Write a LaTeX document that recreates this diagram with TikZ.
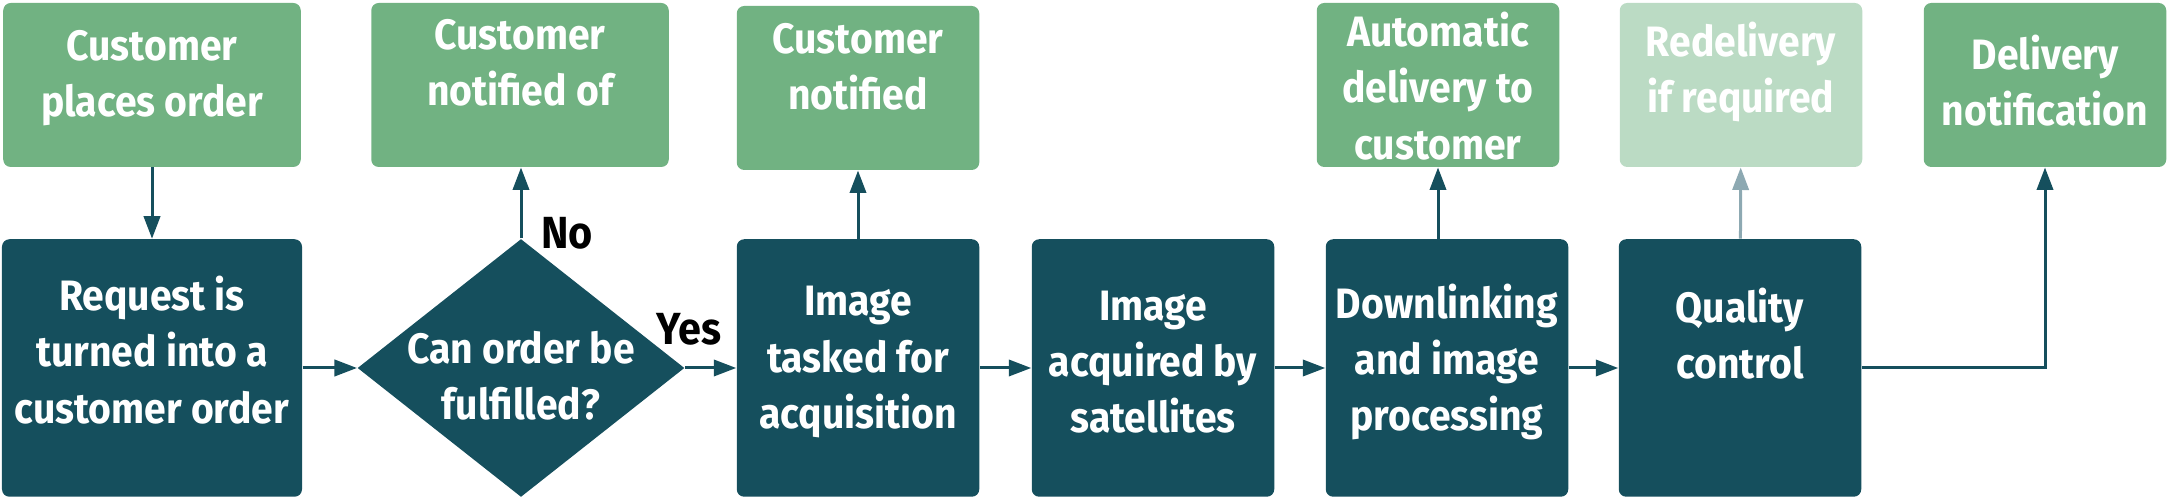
\documentclass[tikz,border=0pt]{standalone}
\usepackage{fontspec}
\setmainfont{Fira Sans}[FakeStretch=0.92]
\usetikzlibrary{arrows.meta,shapes.geometric}

\definecolor{darkteal}{HTML}{154F5D}
\definecolor{leafgreen}{HTML}{71B282}
\definecolor{palegreen}{HTML}{BBDBC4}
\definecolor{palearrow}{HTML}{8DA9B2}

\begin{document}
\begin{tikzpicture}[x=0.4pt,y=-0.4pt]

\tikzset{
  BoxStyle/.style = { rectangle, rounded corners=3pt, inner sep=0pt },
  DarkBox/.style = { BoxStyle, fill=darkteal,
                     minimum width=97pt, minimum height=103pt },
  GreenBox/.style = { BoxStyle, fill=leafgreen,
                      minimum width=97pt, minimum height=65.6pt },
  PaleBox/.style = { GreenBox, fill=palegreen },
  Decision/.style = { diamond, fill=darkteal, inner sep=0pt,
                      minimum width=130.8pt, minimum height=103.2pt },
  BoxText/.style = { align=center, text=white, inner sep=0pt,
                     font=\bfseries\fontsize{17}{22.5}\selectfont },
  LabelStyle/.style = { inner sep=0pt, font=\bfseries\fontsize{18}{20}\selectfont },
  Flow/.style = { draw=darkteal, line width=1.2pt,
                  -{Triangle[length=9pt,width=6.5pt]} },
  PaleFlow/.style = { Flow, draw=palearrow }
}
  \useasboundingbox (0,0) rectangle (2168,497);

  % top row
  \node[GreenBox, minimum width=119pt] (g1) at (152, 85) {};
  \node[GreenBox, minimum width=119pt] (g2) at (520, 85) {};
  \node[GreenBox] (g3) at (858, 88) {};
  \node[GreenBox] (g4) at (1438, 85) {};
  \node[PaleBox]  (g5) at (1741, 85) {};
  \node[GreenBox] (g6) at (2045, 85) {};

  \node[BoxText] (g1t) at (152, 78) {Customer\\places order};
  \node[BoxText] (g2t) at (520, 63) {Customer\\notified of};
  \node[BoxText] (g3t) at (858, 67) {Customer\\notified};
  \node[BoxText] (g4t) at (1438, 86) {Automatic\\delivery to\\customer};
  \node[BoxText] (g5t) at (1741, 72) {Redelivery\\if required};
  \node[BoxText] (g6t) at (2045, 81) {Delivery\\notification};

  % bottom row
  \node[DarkBox, minimum width=120pt] (d1) at (152, 368) {};
  \node[Decision] (dec) at (521, 368) {};
  \node[DarkBox] (d3) at (858, 368) {};
  \node[DarkBox] (d4) at (1153, 368) {};
  \node[DarkBox] (d5) at (1447, 368) {};
  \node[DarkBox] (d6) at (1740, 368) {};

  \node[BoxText] (d1t) at (152, 350) {Request is\\turned into a\\customer order};
  \node[BoxText] (dect) at (521, 376) {Can order be\\fulfilled?};
  \node[BoxText] (d3t) at (858, 362) {Image\\tasked for\\acquisition};
  \node[BoxText] (d4t) at (1153, 362) {Image\\acquired by\\satellites};
  \node[BoxText] (d5t) at (1447, 362) {Downlinking\\and image\\processing};
  \node[BoxText] (d6t) at (1740, 334) {Quality\\control};

  \node[LabelStyle] (no)  at (567, 233) {No};
  \node[LabelStyle] (yes) at (689, 329) {Yes};

  % connectors
  \draw[Flow] (g1) -- (d1);
  \draw[Flow] (d1) -- (dec);
  \draw[Flow] (dec.north) -- (dec.north |- g2.south);
  \draw[Flow] (dec) -- (d3);
  \draw[Flow] (d3) -- (g3);
  \draw[Flow] (d3) -- (d4);
  \draw[Flow] (d4) -- (d5);
  \draw[Flow] (d5.north -| g4.south) -- (g4.south);
  \draw[Flow] (d5) -- (d6);
  \draw[PaleFlow] (d6) -- (g5);
  \draw[Flow] (d6.east) -| (g6.south);

\end{tikzpicture}
\end{document}
